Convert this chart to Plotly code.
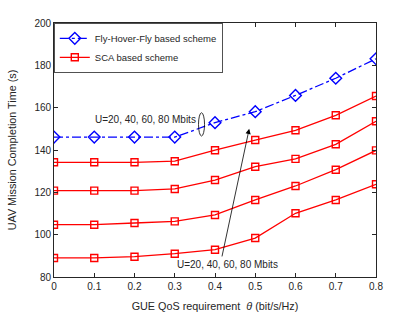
import plotly.graph_objects as go

theta = [0, 0.1, 0.2, 0.3, 0.4, 0.5, 0.6, 0.7, 0.8]
fhf = [146.1, 146.1, 146.1, 146.1, 152.9, 158.1, 165.8, 173.9, 183.1]
sca_80 = [134.2, 134.2, 134.2, 134.7, 139.9, 144.7, 149.3, 156.4, 165.5]
sca_60 = [120.8, 120.8, 120.8, 121.6, 125.8, 132.1, 135.8, 142.7, 153.6]
sca_40 = [104.7, 104.7, 105.5, 106.3, 109.3, 116.4, 123.0, 130.7, 139.8]
sca_20 = [89.0, 89.0, 89.6, 91.0, 92.9, 98.4, 110.1, 116.4, 123.8]
x_ticks = [0, 0.1, 0.2, 0.3, 0.4, 0.5, 0.6, 0.7, 0.8]
y_ticks = [80, 100, 120, 140, 160, 180, 200]

txt = "#262626"
fig = go.Figure()
fig.add_trace(go.Scatter(x=theta, y=fhf, mode="lines+markers", name="Fly-Hover-Fly based scheme",
                         line=dict(color="#0000ff", width=1.3, dash="dashdot"),
                         marker=dict(symbol="diamond-open", size=9, color="#0000ff", line=dict(width=1.4))))
for i, s in enumerate([sca_80, sca_60, sca_40, sca_20]):
    fig.add_trace(go.Scatter(x=theta, y=s, mode="lines+markers", name="SCA based scheme",
                             showlegend=(i == 0),
                             line=dict(color="#ff0000", width=1.3),
                             marker=dict(symbol="square-open", size=7, color="#ff0000", line=dict(width=1.4))))

fig.add_shape(type="circle", xref="x", yref="y", x0=0.359, x1=0.374, y0=146.6, y1=157.6,
              line=dict(color="black", width=0.8))
fig.add_annotation(x=0.358, y=154.6, xref="x", yref="y", text="U=20, 40, 60, 80 Mbits",
                   showarrow=False, xanchor="right", font=dict(size=10, color=txt))
fig.add_annotation(x=0.301, y=85.7, xref="x", yref="y", text="U=20, 40, 60, 80 Mbits",
                   showarrow=False, xanchor="left", font=dict(size=10, color=txt))
fig.add_annotation(x=0.485, y=150.0, ax=0.4166, ay=89.0, xref="x", yref="y", axref="x", ayref="y",
                   text="", showarrow=True, arrowhead=2, arrowsize=1.3, arrowwidth=0.8, arrowcolor="black")

axis_common = dict(showline=True, linecolor=txt, linewidth=0.8, mirror="ticks", ticks="inside",
                   ticklen=4, tickcolor=txt, showgrid=False, zeroline=False, automargin=False,
                   tickfont=dict(size=10, color=txt))
fig.update_xaxes(range=[0, 0.8], tickvals=x_ticks, ticktext=[str(v) for v in x_ticks],
                 title=dict(text="GUE QoS requirement  <i>θ</i> (bit/s/Hz)", font=dict(size=10.8, color=txt)),
                 **axis_common)
fig.update_yaxes(range=[80, 200], tickvals=y_ticks,
                 title=dict(text="UAV Mission Completion Time (s)", font=dict(size=10.8, color=txt)),
                 **axis_common)
fig.update_layout(width=415, height=312, margin=dict(l=54, r=39, t=23, b=35),
                  paper_bgcolor="white", plot_bgcolor="white",
                  font=dict(family="Liberation Sans, Arial, sans-serif", color=txt),
                  legend=dict(x=0, y=1, xanchor="left", yanchor="top", bgcolor="white",
                              bordercolor=txt, borderwidth=0.8, font=dict(size=9.5, color=txt),
                              tracegroupgap=0, itemwidth=30, traceorder="normal"))
fig.write_html("out.html", config={"displayModeBar": False},
               post_script="document.body.style.margin='0';document.body.style.padding='0';document.body.style.overflow='hidden';")
